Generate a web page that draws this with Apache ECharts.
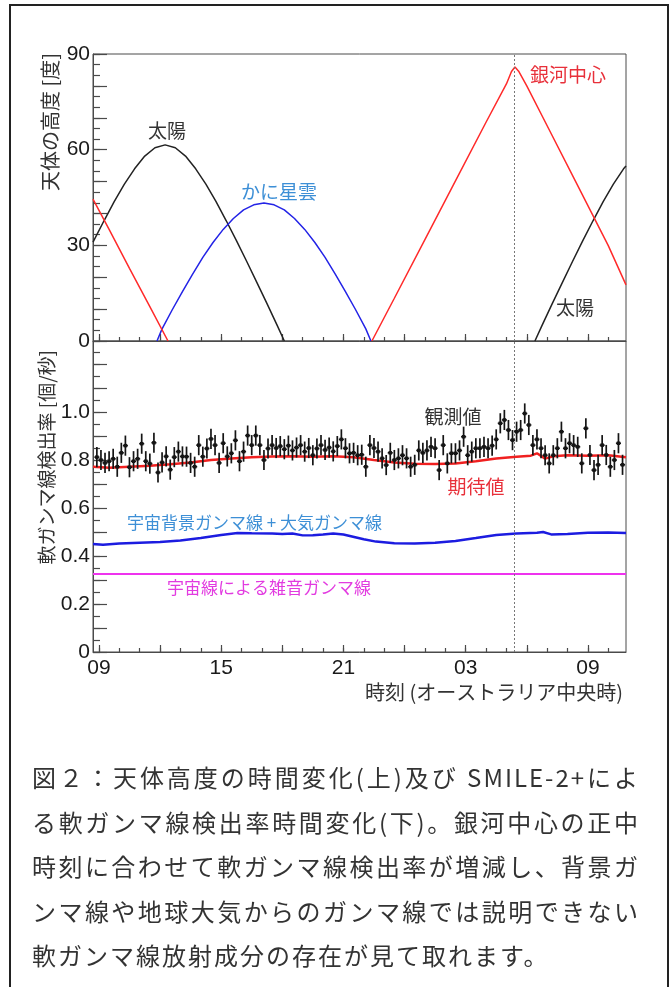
<!DOCTYPE html>
<html>
<head>
<meta charset="utf-8">
<script src="https://cdn.jsdelivr.net/npm/echarts@6/dist/echarts.min.js"></script>
<style>
html,body{margin:0;padding:0;background:#fff;}
#wrap{position:relative;width:672px;height:987px;overflow:hidden;background:#fff;}
#chart{position:absolute;left:0;top:0;width:672px;height:987px;}
#frame{position:absolute;left:9px;top:4px;width:656px;height:1000px;border:2px solid #222;}
#caption{position:absolute;left:32px;top:755px;width:608px;font-family:"Noto Sans CJK JP",sans-serif;font-size:24px;color:#333;line-height:44.5px;letter-spacing:2px;}
#caption div{white-space:nowrap;}
#caption .j{text-align:justify;text-align-last:justify;white-space:normal;}
</style>
</head>
<body>
<div id="wrap">
  <div id="chart"></div>
  <div id="frame"></div>
  <div id="caption">
    <div class="j">図２：天体高度の時間変化(上)及び SMILE-2+によ</div>
    <div class="j">る軟ガンマ線検出率時間変化(下)。銀河中心の正中</div>
    <div class="j">時刻に合わせて軟ガンマ線検出率が増減し、背景ガ</div>
    <div class="j">ンマ線や地球大気からのガンマ線では説明できない</div>
    <div>軟ガンマ線放射成分の存在が見て取れます。</div>
  </div>
</div>
<script>
// ---------------- data ----------------
const X_MIN = 8.71, X_MAX = 34.87;          // hours (09 = 9, next-day 03 = 27)
const xLabelHours = [9, 15, 21, 27, 33];
const xLabelText  = ["09", "15", "21", "03", "09"];
const GC_TRANSIT = 29.4;                      // dotted vertical line

// top panel: altitude [deg]
const sunHours = [8.71, 8.75, 9.25, 9.75, 10.25, 10.75, 11.25, 11.75, 12.25, 12.75, 13.25, 13.75, 14.25, 14.75, 15.25, 15.75, 16.25, 16.75, 17.25, 17.75, 18.1,
                  24.0,
                  30.4, 30.75, 31.25, 31.75, 32.25, 32.75, 33.25, 33.75, 34.25, 34.75, 34.87];
const sunAlt   = [31.0, 31.5, 37.7, 43.7, 49.2, 54.0, 58.0, 60.6, 61.5, 60.6, 58.0, 54.0, 49.2, 43.7, 37.7, 31.5, 25.0, 18.4, 11.7, 4.9, 0,
                  null,
                  0, 4.9, 11.7, 18.4, 25.0, 31.5, 37.7, 43.7, 49.2, 54.0, 54.9];

const crabHours = [11.85, 12.1, 12.6, 13.1, 13.6, 14.1, 14.6, 15.1, 15.6, 16.1, 16.6, 17.1, 17.6, 18.1, 18.6, 19.1, 19.6, 20.1, 20.6, 21.1, 21.6, 22.1, 22.35];
const crabAlt   = [0, 3.8, 9.8, 15.5, 21.0, 26.2, 30.9, 35.0, 38.4, 41.1, 42.7, 43.3, 42.7, 41.1, 38.4, 35.0, 30.9, 26.2, 21.0, 15.5, 9.8, 3.8, 0];

const gcHours = [8.71, 9.5, 10.5, 11.5, 12.39, 17.0, 22.4, 23.5, 25.0, 26.5, 28.0, 29.0, 29.25, 29.42, 29.6, 30.0, 31.0, 32.5, 34.0, 34.87];
const gcAlt   = [44.5, 35.0, 22.8, 10.8, 0, null, 0, 13.4, 31.8, 50.2, 68.6, 80.6, 84.5, 85.9, 84.6, 80.0, 67.5, 48.7, 29.9, 17.6];

// bottom panel: rate [counts/s]
const expHours = [8.71, 9.5, 10.5, 11.5, 12.5, 13.5, 14.5, 15.5, 16.5, 17.5, 18.5, 19.5, 20.5, 21.5, 22.5, 23.5, 24.5, 25.5, 26.5, 27.5, 28.5, 29.5, 30.2, 30.5, 30.9, 31.3, 32.0, 33.0, 34.0, 34.87];
const expRate  = [0.772, 0.768, 0.772, 0.776, 0.782, 0.790, 0.800, 0.806, 0.812, 0.815, 0.816, 0.814, 0.816, 0.812, 0.800, 0.790, 0.784, 0.783, 0.786, 0.795, 0.806, 0.814, 0.818, 0.828, 0.806, 0.816, 0.820, 0.818, 0.820, 0.812];

const bgHours = [8.71, 9.2, 10.0, 11.0, 12.0, 13.0, 14.0, 15.0, 15.8, 16.5, 17.5, 18.0, 18.5, 19.0, 19.5, 20.0, 20.5, 21.0, 22.0, 22.6, 23.5, 24.5, 25.5, 26.5, 27.5, 28.5, 29.5, 30.5, 30.8, 31.2, 32.0, 33.0, 34.0, 34.87];
const bgRate  = [0.450, 0.447, 0.452, 0.455, 0.458, 0.465, 0.475, 0.488, 0.496, 0.495, 0.494, 0.492, 0.494, 0.486, 0.487, 0.490, 0.494, 0.490, 0.470, 0.460, 0.453, 0.452, 0.455, 0.463, 0.475, 0.488, 0.494, 0.497, 0.500, 0.490, 0.492, 0.497, 0.498, 0.496];

const noiseHours = [8.71, 34.87];
const noiseRate  = [0.325, 0.325];

// observed rate, 12-minute bins starting at 08:54
const OBS_START = 8.9, OBS_STEP = 0.2, OBS_ERR = 0.042;
const obsRate = [
  0.812, 0.800, 0.788, 0.795, 0.805, 0.772, 0.830, 0.860, 0.770, 0.795,
  0.805, 0.868, 0.795, 0.785, 0.872, 0.748, 0.790, 0.815, 0.760, 0.812,
  0.835, 0.815, 0.814, 0.788, 0.772, 0.862, 0.814, 0.848, 0.888, 0.862,
  0.788, 0.870, 0.815, 0.828, 0.882, 0.795, 0.835, 0.902, 0.862, 0.902,
  0.862, 0.800, 0.848, 0.862, 0.850, 0.858, 0.845, 0.860, 0.840, 0.852,
  0.862, 0.835, 0.850, 0.820, 0.848, 0.862, 0.842, 0.852, 0.836, 0.858,
  0.886, 0.849, 0.828, 0.830, 0.820, 0.822, 0.772, 0.862, 0.850, 0.835,
  0.807, 0.779, 0.830, 0.800, 0.807, 0.820, 0.807, 0.772, 0.780, 0.840,
  0.830, 0.840, 0.855, 0.849, 0.758, 0.862, 0.786, 0.828, 0.828, 0.840,
  0.897, 0.820, 0.835, 0.849, 0.849, 0.855, 0.849, 0.860, 0.886, 0.953,
  0.967, 0.925, 0.883, 0.918, 0.925, 0.994, 0.946, 0.862, 0.886, 0.849,
  0.820, 0.786, 0.820, 0.849, 0.918, 0.849, 0.870, 0.862, 0.855, 0.786,
  0.932, 0.821, 0.758, 0.780, 0.862, 0.821, 0.772, 0.800, 0.870, 0.780
];

// axis ticks
const xMajorTicks = [9, 12, 15, 18, 21, 24, 27, 30, 33];
const xMinorTicks = []; for (let h = 9; h <= 34; h++) xMinorTicks.push(h);
const altLabels = [0, 30, 60, 90];
const altMajorTicks = [0, 10, 20, 30, 40, 50, 60, 70, 80, 90];
const altMinorTicks = []; for (let i = 0; i <= 27; i++) altMinorTicks.push(+(i * 10 / 3).toFixed(4));
const rateLabels = [0, 0.2, 0.4, 0.6, 0.8, 1.0];
const rateMajorTicks = [0, 0.1, 0.2, 0.3, 0.4, 0.5, 0.6, 0.7, 0.8, 0.9, 1.0, 1.1, 1.2];
const rateMinorTicks = []; for (let i = 0; i <= 25; i++) rateMinorTicks.push(+(i * 0.05).toFixed(3));
const RATE_MAX = 1.296;

// ---------------- chart ----------------
function pairs(xs, ys) { return xs.map((x, i) => [x, ys[i] == null ? '-' : ys[i]]); }
const obsData = obsRate.map((v, i) => [+(OBS_START + i * OBS_STEP).toFixed(3), v]);

const AX = '#4a4a4a';
const NUM_FONT = '"Liberation Sans", Arial, sans-serif';
const JP_FONT = '"Noto Sans CJK JP", sans-serif';

function xAxes(grid, withLabels) {
  return [
    { type: 'value', gridIndex: grid, min: X_MIN, max: X_MAX, position: 'bottom',
      axisLine: { show: true, onZero: false, lineStyle: { color: AX, width: 1 } },
      axisTick: { show: true, inside: true, length: 7, customValues: xMajorTicks, lineStyle: { color: AX, width: 1.2 } },
      axisLabel: withLabels ? { show: true, customValues: xLabelHours, margin: 6,
        formatter: v => xLabelText[xLabelHours.indexOf(Math.round(v))] || '',
        fontSize: 21, fontFamily: NUM_FONT, color: '#1a1a1a' } : { show: false },
      splitLine: { show: false } },
    { type: 'value', gridIndex: grid, min: X_MIN, max: X_MAX, position: 'bottom',
      axisLine: { show: false, onZero: false },
      axisTick: { show: true, inside: true, length: 4, customValues: xMinorTicks, lineStyle: { color: AX, width: 1.2 } },
      axisLabel: { show: false }, splitLine: { show: false } }
  ];
}
function yAxes(grid, min, max, labels, major, minor, fmt) {
  return [
    { type: 'value', gridIndex: grid, min: min, max: max, position: 'left',
      axisLine: { show: true, onZero: false, lineStyle: { color: AX, width: 1 } },
      axisTick: { show: true, inside: true, length: 14, customValues: major, lineStyle: { color: AX, width: 1.2 } },
      axisLabel: { show: true, customValues: labels, margin: 3, formatter: fmt,
        fontSize: 21, fontFamily: NUM_FONT, color: '#1a1a1a' },
      splitLine: { show: false } },
    { type: 'value', gridIndex: grid, min: min, max: max, position: 'left',
      axisLine: { show: false, onZero: false },
      axisTick: { show: true, inside: true, length: 7, customValues: minor, lineStyle: { color: AX, width: 1.2 } },
      axisLabel: { show: false }, splitLine: { show: false } }
  ];
}

const vline = {
  silent: true, symbol: ['none', 'none'], label: { show: false },
  lineStyle: { color: '#777', type: [2, 2], width: 1 },
  data: [{ xAxis: GC_TRANSIT }]
};

function txt(text, x, y, color, size, align, extra) {
  return Object.assign({
    type: 'text', x: x, y: y, silent: true, z: 100,
    style: { text: text, fill: color, font: size + 'px ' + JP_FONT, align: align || 'center', verticalAlign: 'middle' }
  }, extra || {});
}

const option = {
  animation: false,
  backgroundColor: 'transparent',
  grid: [
    { left: 93, top: 54, width: 533, height: 287, show: true, borderColor: AX, borderWidth: 1, backgroundColor: 'transparent' },
    { left: 93, top: 341, width: 533, height: 311, show: true, borderColor: AX, borderWidth: 1, backgroundColor: 'transparent' }
  ],
  xAxis: [].concat(xAxes(0, false), xAxes(1, true)),
  yAxis: [].concat(
    yAxes(0, 0, 90, altLabels, altMajorTicks, altMinorTicks, v => String(Math.round(v))),
    yAxes(1, 0, RATE_MAX, rateLabels, rateMajorTicks, rateMinorTicks, v => (Math.abs(v) < 1e-9 ? '0' : v.toFixed(1)))
  ),
  series: [
    { type: 'line', xAxisIndex: 0, yAxisIndex: 0, data: pairs(sunHours, sunAlt), showSymbol: false,
      lineStyle: { color: '#222', width: 1.5 }, itemStyle: { color: '#222' }, markLine: vline },
    { type: 'line', xAxisIndex: 0, yAxisIndex: 0, data: pairs(crabHours, crabAlt), showSymbol: false,
      lineStyle: { color: '#2323e6', width: 1.5 }, itemStyle: { color: '#2323e6' } },
    { type: 'line', xAxisIndex: 0, yAxisIndex: 0, data: pairs(gcHours, gcAlt), showSymbol: false,
      lineStyle: { color: '#ff2a2a', width: 1.5 }, itemStyle: { color: '#ff2a2a' } },

    { type: 'line', xAxisIndex: 2, yAxisIndex: 2, data: pairs(noiseHours, noiseRate), showSymbol: false,
      lineStyle: { color: '#ee33ee', width: 2 }, itemStyle: { color: '#ee33ee' }, markLine: vline },
    { type: 'line', xAxisIndex: 2, yAxisIndex: 2, data: pairs(bgHours, bgRate), showSymbol: false,
      lineStyle: { color: '#1c1ce0', width: 2.5 }, itemStyle: { color: '#1c1ce0' } },
    { type: 'line', xAxisIndex: 2, yAxisIndex: 2, data: pairs(expHours, expRate), showSymbol: false,
      lineStyle: { color: '#f02020', width: 2.5 }, itemStyle: { color: '#f02020' } },
    { type: 'custom', xAxisIndex: 2, yAxisIndex: 2, data: obsData, z: 5,
      renderItem: function (params, api) {
        const x = api.value(0), y = api.value(1);
        const c = api.coord([x, y]);
        const t = api.coord([x, y + OBS_ERR]);
        const b = api.coord([x, y - OBS_ERR]);
        const l = api.coord([x - OBS_STEP / 2, y]);
        const r = api.coord([x + OBS_STEP / 2, y]);
        return { type: 'group', children: [
          { type: 'line', shape: { x1: c[0], y1: t[1], x2: c[0], y2: b[1] }, style: { stroke: '#151515', lineWidth: 1.7 } },
          { type: 'line', shape: { x1: l[0] - 0.5, y1: c[1], x2: r[0] + 0.5, y2: c[1] }, style: { stroke: '#151515', lineWidth: 1.6 } },
          { type: 'rect', shape: { x: c[0] - 1.75, y: c[1] - 1.75, width: 3.5, height: 3.5 }, style: { fill: '#151515' } }
        ] };
      } }
  ],
  graphic: [
    txt('太陽', 167, 131, '#333', 19),
    txt('かに星雲', 279, 192, '#3d8fd6', 19),
    txt('銀河中心', 568, 75, '#e8303a', 19),
    txt('太陽', 575, 308, '#333', 19),
    txt('観測値', 453, 417, '#333', 19),
    txt('期待値', 476, 487, '#e8303a', 19),
    txt('宇宙背景ガンマ線 + 大気ガンマ線', 127, 523, '#3d8fd6', 17, 'left'),
    txt('宇宙線による雑音ガンマ線', 167, 588, '#e23be0', 17, 'left'),
    txt('天体の高度 [度]', 50, 53, '#333', 20, 'right', { rotation: Math.PI / 2 }),
    txt('軟ガンマ線検出率 [個/秒]', 47, 350, '#333', 19, 'right', { rotation: Math.PI / 2 }),
    txt('時刻 (オーストラリア中央時)', 623, 692, '#333', 20, 'right')
  ]
};

const chart = echarts.init(document.getElementById('chart'), null, { renderer: 'canvas' });
chart.setOption(option);
</script>
</body>
</html>
